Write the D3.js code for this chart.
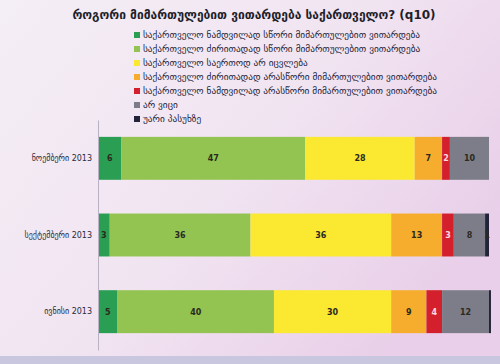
<!DOCTYPE html>
<html>
<head>
<meta charset="utf-8">
<script src="https://cdn.jsdelivr.net/npm/d3@7"></script>
<style>
  html, body { margin: 0; padding: 0; }
  body { width: 500px; height: 364px; overflow: hidden; font-family: "DejaVu Sans", sans-serif; }
</style>
</head>
<body>
<svg id="chart"></svg>
<script>
const w = 500;
const h = 364;

// survey waves, top to bottom
const waves = ["ნოემბერი 2013", "სექტემბერი 2013", "ივნისი 2013"];
const answers = [
  "საქართველო ნამდვილად სწორი მიმართულებით ვითარდება",
  "საქართველო ძირითადად სწორი მიმართულებით ვითარდება",
  "საქართველო საერთოდ არ იცვლება",
  "საქართველო ძირითადად არასწორი მიმართულებით ვითარდება",
  "საქართველო ნამდვილად არასწორი მიმართულებით ვითარდება",
  "არ ვიცი",
  "უარი პასუხზე"
];
const colors = ["#2a9e52", "#93c452", "#fbe831", "#f6ad2e", "#d3202c", "#7c7d88", "#23233a"];
// percentages per answer, same order as waves
const defRight = [6, 3, 5];
const mostRight = [47, 36, 40];
const noChange = [28, 36, 30];
const mostWrong = [7, 13, 9];
const defWrong = [2, 3, 4];
const dontKnow = [10, 8, 12];
const refused = [0, 1, 0.5];

const series = [defRight, mostRight, noChange, mostWrong, defWrong, dontKnow, refused];
const rows = waves.map((wave, i) => {
  const r = {wave};
  series.forEach((s, k) => r["a" + k] = s[i]);
  return r;
});
const keys = series.map((s, k) => "a" + k);

const svg = d3.select("#chart").attr("width", w).attr("height", h);

// photographed-slide background
const defs = svg.append("defs");
const bg = defs.append("linearGradient").attr("id", "bg")
  .attr("x1", 0).attr("y1", 0).attr("x2", 1).attr("y2", 0.6);
bg.append("stop").attr("offset", "0%").attr("stop-color", "#f4eef6");
bg.append("stop").attr("offset", "55%").attr("stop-color", "#f1e4f1");
bg.append("stop").attr("offset", "100%").attr("stop-color", "#e9cfe9");
svg.append("rect").attr("width", w).attr("height", h).attr("fill", "url(#bg)");

// title
svg.append("text")
  .attr("x", 254).attr("y", 19)
  .attr("text-anchor", "middle")
  .style("font-size", "12px").style("font-weight", "bold").style("fill", "#1e1e2a")
  .text("როგორი მიმართულებით ვითარდება საქართველო? (q10)");

// legend
const legend = svg.append("g").attr("transform", "translate(134, 37)");
answers.forEach((a, k) => {
  const g = legend.append("g").attr("transform", `translate(0, ${k * 14})`);
  g.append("rect").attr("x", 0).attr("y", -5).attr("width", 6).attr("height", 6).attr("fill", colors[k]);
  g.append("text").attr("x", 9).attr("y", 1)
    .style("font-size", "9.3px").style("fill", "#1e1e3a")
    .text(a);
});

// scales
const xScale = d3.scaleLinear().domain([0, 100]).range([98, 489]);
const yScale = d3.scaleBand().domain(waves).range([120, 350]).paddingInner(0.44).paddingOuter(0.22);

const stacked = d3.stack().keys(keys)(rows);

const layers = svg.selectAll(".layer")
  .data(stacked)
  .enter()
  .append("g")
  .attr("class", "layer")
  .attr("fill", (d, k) => colors[k]);

layers.selectAll("rect")
  .data(d => d)
  .enter()
  .append("rect")
  .attr("x", d => xScale(d[0]))
  .attr("y", d => yScale(d.data.wave))
  .attr("width", d => xScale(d[1]) - xScale(d[0]))
  .attr("height", yScale.bandwidth());

// value labels
layers.each(function(layer, k) {
  d3.select(this).selectAll("text")
    .data(layer.filter(d => d[1] - d[0] >= 1))
    .enter()
    .append("text")
    .attr("x", d => (xScale(d[0]) + xScale(d[1])) / 2)
    .attr("y", d => yScale(d.data.wave) + yScale.bandwidth() / 2 + 3)
    .attr("text-anchor", "middle")
    .style("font-size", "8px").style("font-weight", "bold")
    .style("fill", k === 4 ? "#ffd8e0" : "#2a2a1e")
    .text(d => d[1] - d[0]);
});

// category axis
const yAxis = d3.axisLeft(yScale).tickSize(0).tickPadding(6);
const ax = svg.append("g").attr("transform", "translate(98, 0)").call(yAxis);
ax.select(".domain").attr("stroke", "#b9b2c2");
ax.selectAll("text").style("font-size", "8px").style("fill", "#2a2a3a").attr("font-family", "DejaVu Sans");

// bottom edge of the screen in the photo
svg.append("rect").attr("x", 0).attr("y", 356).attr("width", w).attr("height", 8).attr("fill", "#c9c6e0");
</script>
</body>
</html>
